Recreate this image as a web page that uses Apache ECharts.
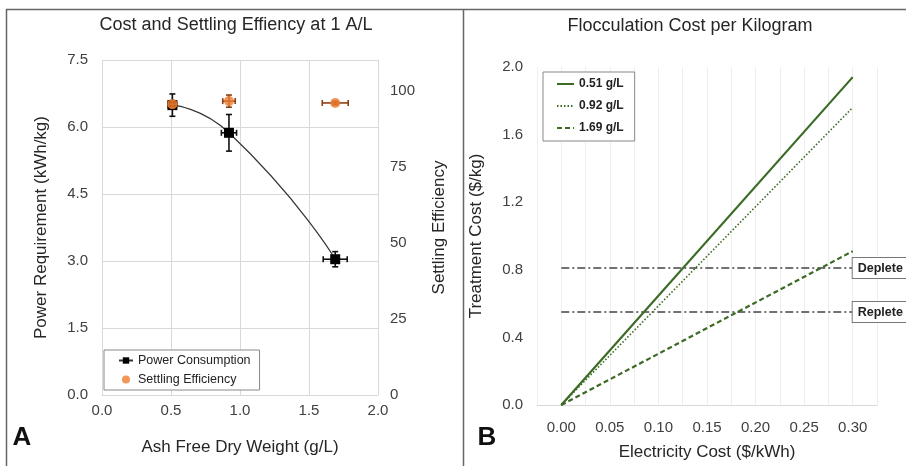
<!DOCTYPE html>
<html><head><meta charset="utf-8">
<script src="https://cdn.jsdelivr.net/npm/echarts@6/dist/echarts.min.js"></script>
<style>html,body{margin:0;padding:0;background:#fff}#c{width:906px;height:466px}</style>
</head><body><div id="c"></div>
<script>
// ---- Panel A data ----
const afdw = [0.51, 0.92, 1.69];            // Ash Free Dry Weight (g/L)
const powerReq = [6.49, 5.87, 3.04];        // kWh/kg
const powerXErr = [0.03, 0.055, 0.087];
const powerYErr = [0.25, 0.41, 0.17];
const settlingEff = [95.5, 96.5, 95.9];     // %
const settleXErr = [0.03, 0.045, 0.094];
const settleYErr = [1.2, 2.0, 0.6];

// ---- Panel B data ----
const elecCost = [0.00, 0.30];              // $/kWh
const cost051 = [0.00, 1.94];               // $/kg
const cost092 = [0.00, 1.76];
const cost169 = [0.00, 0.91];
const depleteCost = 0.81;
const repleteCost = 0.55;
const seriesNamesB = ['0.51 g/L', '0.92 g/L', '1.69 g/L'];

const FONT = '"Liberation Sans", Arial, sans-serif';
const TXT = '#404040';
const GREEN = '#3b6b24';

function pairs(xs, ys) { return xs.map((x, i) => [x, ys[i]]); }
function errData(xs, ys, ex, ey) { return xs.map((x, i) => [x, ys[i], ex[i], ey[i]]); }
function errRender(color) {
  return function (params, api) {
    const x = api.value(0), y = api.value(1), dx = api.value(2), dy = api.value(3);
    const a = api.coord([x, y - dy]), b = api.coord([x, y + dy]);
    const l = api.coord([x - dx, y]), r = api.coord([x + dx, y]);
    const cap = 3;
    const st = { stroke: color, lineWidth: 1.6 };
    const mk = (x1, y1, x2, y2) => ({ type: 'line', shape: { x1, y1, x2, y2 }, style: st });
    return {
      type: 'group',
      children: [
        mk(a[0], a[1], b[0], b[1]),
        mk(a[0] - cap, a[1], a[0] + cap, a[1]),
        mk(b[0] - cap, b[1], b[0] + cap, b[1]),
        mk(l[0], l[1], r[0], r[1]),
        mk(l[0], l[1] - cap, l[0], l[1] + cap),
        mk(r[0], r[1] - cap, r[0], r[1] + cap)
      ]
    };
  };
}
const refLabel = (txt) => ({
  show: true, formatter: txt, distance: 0,
  fontFamily: FONT, fontSize: 12.5, fontWeight: 'bold', color: '#222',
  backgroundColor: '#fff', borderColor: '#777', borderWidth: 1,
  padding: [4, 6, 3, 5]
});

const chart = echarts.init(document.getElementById('c'));
chart.setOption({
  animation: false,
  textStyle: { fontFamily: FONT },
  graphic: [
    { type: 'line', shape: { x1: 6, y1: 9.5, x2: 906, y2: 9.5 }, style: { stroke: '#666', lineWidth: 1.5 } },
    { type: 'line', shape: { x1: 6.5, y1: 9, x2: 6.5, y2: 466 }, style: { stroke: '#666', lineWidth: 1.5 } },
    { type: 'line', shape: { x1: 463.5, y1: 9, x2: 463.5, y2: 466 }, style: { stroke: '#666', lineWidth: 1.5 } },
    { type: 'text', style: { text: 'Cost and Settling Effiency at 1 A/L', x: 236, y: 25, textAlign: 'center', textVerticalAlign: 'middle', font: '18px ' + FONT, fill: '#262626' } },
    { type: 'text', style: { text: 'Flocculation Cost per Kilogram', x: 690, y: 26, textAlign: 'center', textVerticalAlign: 'middle', font: '18px ' + FONT, fill: '#262626' } },
    { type: 'text', style: { text: 'A', x: 22, y: 438, textAlign: 'center', textVerticalAlign: 'middle', font: 'bold 26px ' + FONT, fill: '#111' } },
    { type: 'text', style: { text: 'B', x: 487, y: 438, textAlign: 'center', textVerticalAlign: 'middle', font: 'bold 26px ' + FONT, fill: '#111' } }
  ],
  legend: [
    {
      data: ['Power Consumption', 'Settling Efficiency'],
      left: 104, top: 350, orient: 'vertical',
      itemWidth: 14, itemHeight: 8, itemGap: 6,
      padding: [4, 9, 4, 14],
      borderColor: '#888', borderWidth: 1, backgroundColor: '#fff',
      textStyle: { fontFamily: FONT, fontSize: 12.5, color: '#222' }
    },
    {
      data: seriesNamesB,
      left: 543, top: 72, orient: 'vertical',
      itemWidth: 17, itemHeight: 10, itemGap: 10,
      padding: [6, 11, 7, 13],
      itemStyle: { opacity: 0 },
      borderColor: '#888', borderWidth: 1, backgroundColor: '#fff',
      textStyle: { fontFamily: FONT, fontSize: 12, fontWeight: 'bold', color: '#222' }
    }
  ],
  grid: [
    { left: 102, right: 528, top: 60, bottom: 71 },
    { left: 537, right: 29, top: 67, bottom: 61 }
  ],
  xAxis: [
    {
      gridIndex: 0, type: 'value', min: 0, max: 2, interval: 0.5,
      name: 'Ash Free Dry Weight (g/L)', nameLocation: 'middle', nameGap: 44,
      nameTextStyle: { fontSize: 17, color: '#262626' },
      axisLine: { show: true, lineStyle: { color: '#d9d9d9' } }, axisTick: { show: false },
      axisLabel: { fontSize: 15, color: TXT, margin: 8, formatter: v => v.toFixed(1) },
      splitLine: { show: true, lineStyle: { color: '#d9d9d9' } }
    },
    {
      gridIndex: 1, type: 'value', min: -0.025, max: 0.325, interval: 0.025,
      name: 'Electricity Cost ($/kWh)', nameLocation: 'middle', nameGap: 39,
      nameTextStyle: { fontSize: 17, color: '#262626' },
      axisLine: { show: true, lineStyle: { color: '#d9d9d9' } }, axisTick: { show: false },
      axisLabel: {
        fontSize: 15, color: TXT, margin: 15,
        showMinLabel: true, showMaxLabel: true,
        formatter: v => {
          const k = v / 0.05;
          if (v < -1e-9 || v > 0.3 + 1e-9 || Math.abs(k - Math.round(k)) > 1e-6) return '';
          return v.toFixed(2);
        }
      },
      splitLine: { show: true, lineStyle: { color: '#eeeeee' } }
    }
  ],
  yAxis: [
    {
      gridIndex: 0, type: 'value', min: 0, max: 7.5, interval: 1.5,
      name: 'Power Requirement (kWh/kg)', nameLocation: 'middle', nameGap: 52, nameRotate: 90,
      nameTextStyle: { fontSize: 17, color: '#262626' },
      axisLine: { show: false }, axisTick: { show: false },
      axisLabel: { fontSize: 15, color: TXT, margin: 14, formatter: v => v.toFixed(1) },
      splitLine: { show: true, lineStyle: { color: '#d9d9d9' } }
    },
    {
      gridIndex: 0, type: 'value', position: 'right', min: 0, max: 110, interval: 25,
      name: 'Settling Efficiency', nameLocation: 'middle', nameGap: 53, nameRotate: 90,
      nameTextStyle: { fontSize: 17, color: '#262626' },
      axisLine: { show: false }, axisTick: { show: false },
      axisLabel: { fontSize: 15, color: TXT, margin: 12, showMaxLabel: false },
      splitLine: { show: false }
    },
    {
      gridIndex: 1, type: 'value', min: 0, max: 2, interval: 0.4,
      name: 'Treatment Cost ($/kg)', nameLocation: 'middle', nameGap: 52, nameRotate: 90,
      nameTextStyle: { fontSize: 17, color: '#262626' },
      axisLine: { show: false }, axisTick: { show: false },
      axisLabel: { fontSize: 15, color: TXT, margin: 14, formatter: v => v.toFixed(1) },
      splitLine: { show: false }
    }
  ],
  series: [
    {
      name: 'powerErr', type: 'custom', xAxisIndex: 0, yAxisIndex: 0, z: 2,
      renderItem: errRender('#111'), data: errData(afdw, powerReq, powerXErr, powerYErr), silent: true
    },
    {
      name: 'Power Consumption', type: 'line', xAxisIndex: 0, yAxisIndex: 0, z: 3,
      smooth: 0.6, symbol: 'rect', symbolSize: 10,
      itemStyle: { color: '#000' }, lineStyle: { color: '#333', width: 1.2 },
      data: pairs(afdw, powerReq)
    },
    {
      name: 'settleErr', type: 'custom', xAxisIndex: 0, yAxisIndex: 1, z: 4,
      renderItem: errRender('#8a3f12'), data: errData(afdw, settlingEff, settleXErr, settleYErr), silent: true
    },
    {
      name: 'Settling Efficiency', type: 'scatter', xAxisIndex: 0, yAxisIndex: 1, z: 5,
      symbol: 'circle', symbolSize: 10, itemStyle: { color: '#ED7D31' },
      data: pairs(afdw, settlingEff)
    },
    {
      name: 'Deplete', type: 'line', xAxisIndex: 1, yAxisIndex: 2, symbol: 'none',
      lineStyle: { color: '#444', width: 1.5, type: [8, 3, 2, 3] },
      data: pairs(elecCost, elecCost.map(() => depleteCost)),
      endLabel: refLabel('Deplete')
    },
    {
      name: 'Replete', type: 'line', xAxisIndex: 1, yAxisIndex: 2, symbol: 'none',
      lineStyle: { color: '#444', width: 1.5, type: [8, 3, 2, 3] },
      data: pairs(elecCost, elecCost.map(() => repleteCost)),
      endLabel: refLabel('Replete')
    },
    {
      name: seriesNamesB[0], type: 'line', xAxisIndex: 1, yAxisIndex: 2, symbol: 'none',
      itemStyle: { color: GREEN }, lineStyle: { color: GREEN, width: 2.2, type: 'solid' },
      data: pairs(elecCost, cost051)
    },
    {
      name: seriesNamesB[1], type: 'line', xAxisIndex: 1, yAxisIndex: 2, symbol: 'none',
      itemStyle: { color: GREEN }, lineStyle: { color: GREEN, width: 1.6, type: [1.5, 2] },
      data: pairs(elecCost, cost092)
    },
    {
      name: seriesNamesB[2], type: 'line', xAxisIndex: 1, yAxisIndex: 2, symbol: 'none',
      itemStyle: { color: GREEN }, lineStyle: { color: GREEN, width: 2.2, type: [5, 3] },
      data: pairs(elecCost, cost169)
    }
  ]
});
</script>
</body></html>
